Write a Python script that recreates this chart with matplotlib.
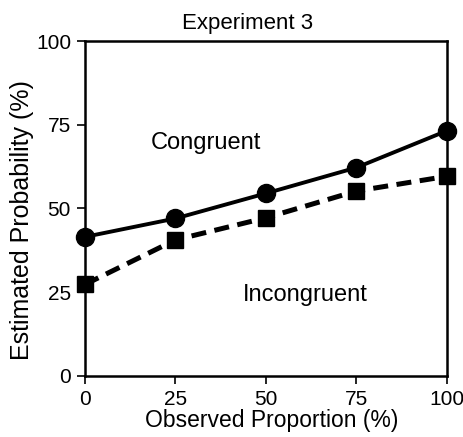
import matplotlib
matplotlib.use("Agg")
import matplotlib.pyplot as plt

observed = [0, 25, 50, 75, 100]
congruent = [41.5, 47.0, 54.5, 62.2, 73.2]
incongruent = [27.3, 40.6, 47.2, 55.2, 59.6]
xticks = [0, 25, 50, 75, 100]
yticks = [0, 25, 50, 75, 100]

plt.rcParams['font.family'] = ['Liberation Sans', 'DejaVu Sans']

W, H = 464, 437
fig = plt.figure(figsize=(W / 100, H / 100), dpi=100)
ax = fig.add_axes([0.183, 0.14, 0.780, 0.766])

ax.plot(observed, congruent, '-', color='black', lw=2.8, marker='o', ms=13, clip_on=False, zorder=3)
ax.plot(observed, incongruent, '--', color='black', lw=3.6, dashes=(3, 1.7), marker='s', ms=12, clip_on=False, zorder=3)

ax.set_xlim(0, 100)
ax.set_ylim(0, 100)
ax.set_xticks(xticks)
ax.set_yticks(yticks)
ax.tick_params(direction='out', length=6, width=1.2, labelsize=15, pad=4)
for s in ax.spines.values():
    s.set_linewidth(1.8)

ax.text(33.4, 69.6, 'Congruent', fontsize=17, ha='center', va='center')
ax.text(60.8, 24.2, 'Incongruent', fontsize=17, ha='center', va='center')

fig.text(272 / W, 1 - 421 / H, 'Observed Proportion (%)', fontsize=16.5, ha='center', va='center')
fig.text(22 / W, 1 - 220 / H, 'Estimated Probability (%)', fontsize=18, ha='center', va='center', rotation=90)
fig.text(248 / W, 1 - 23 / H, 'Experiment 3', fontsize=16, ha='center', va='center')

fig.savefig('out.png', dpi=100)
